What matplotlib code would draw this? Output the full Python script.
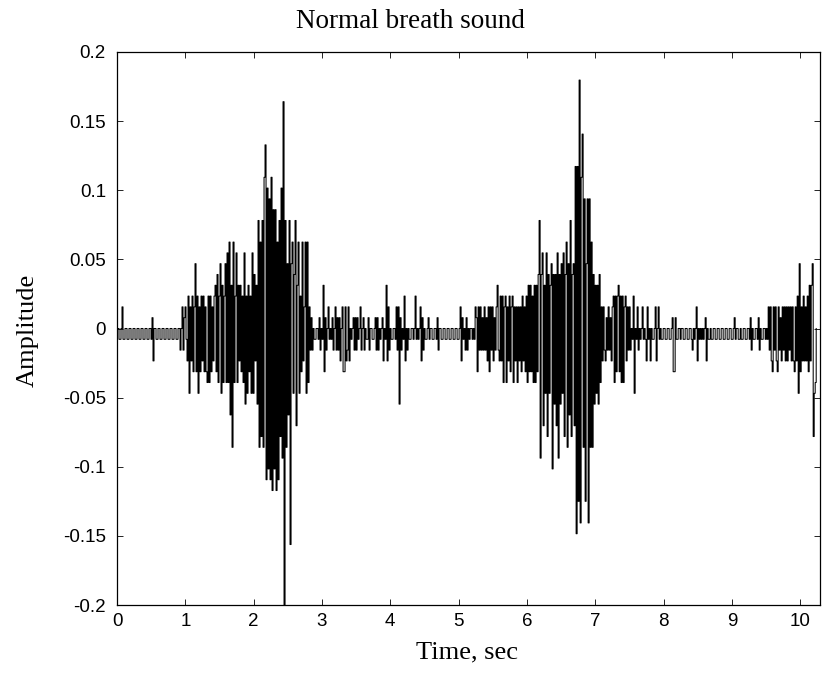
import numpy as np
import matplotlib
matplotlib.use('Agg')
import matplotlib.pyplot as plt

# display sampling of the trace (samples per second) and 8-bit quantisation step
fs = 68.3
q_step = 1.0 / 128

# amplitude in quantisation steps
quiet_start = [
    0, 0, -1, -1, 0, 2, -1, -1, 0, 0,
    -1, -1, 0, 0, -1, -1, 0, 0, -1, -1,
    0, 0, -1, -1, 0, 0, -1, -1, 0, 0,
    -1, -1, 0, 0, -1, 1, -3, 0, 0, -1,
    -1, 0, 0, -1, -1, 0, 0, -1, -1, 0,
    0, -1, -1, 0, 0, -1, -1, 0, 0, -1,
    -1, 0, 0,
]
burst_1 = [
    -2, 0, 2, -2, 1, 2, -1, -3, 3, -6,
    2, -3, 3, -4, 2, 6, -4, 3, -6, 2,
    -4, 3, -3, 3, -4, 2, -4, -5, 3, -5,
    3, -4, 2, -3, 3, 4, -4, 5, -5, 3,
    6, -6, 4, -5, 3, 6, -5, 7, -5, 8,
    -8, 4, -11, 8, -5, 3, 7, -5, 4, -3,
    4, -4, 3, -5, 7, -7, 3, -6, 4, -4,
    3, -6, 7, -6, 5, -3, 4, -7, 10, -11,
    8, -10, 10, -11, 14, 17, -14, 13, -13, 12,
    -14, 14, -15, 11, -13, 11, -15, 8, -14, 10,
    -10, 13, -12, 21, -26, 10, -11, 6, -8, 10,
    -20, 6, 8, -6, 5, 10, -9, 4, 8, -6,
    3, -4, 8, -3, 2, 8, -6, 8, -5, 2,
    -2,
]
interval_1 = [
    1, -2, 0, -1, -1, 0, 0, -1, 1, -2,
    0, -1, 4, -4, 1, -2, 0, 2, -1, 0,
    -1, 1, -2, 0, 2, -2, 1, -2, 1, -3,
    0, 2, -4, -4, 2, -3, -2, 2, -3, 0,
    -1, 0, 1, -2, 1, -2, 1, -1, 0, 2,
    -2, 0, 1, -2, 0, -1, -1, 1, -2, 0,
    0, -1, -1, 0, 1, -2, 1, -2, 0, -1,
    0, 1, -3, 0, -1, 4, -3, 2, -2, 0,
    -1, -1, 0, 0, -1, 2, -2, 2, -7, 1,
    -2, 0, -1, 3, -3, 0, -2, 0, -1, -1,
    0, 0, -1, 0, 3, -1, 0, -1, 0, 2,
    -3, 1, -2, 0, -1, -1, 0, 1, -1, 0,
    0, -1, -1, 0, 0, -1, 1, -2, 0, 0,
    -1, -1, 0, 0, -1, -1, 0, 0, -1, -1,
    0, 0, -1, -1, 0, 0, -1, -1, 0, 2,
    -3, 1, -1, 0, -2, 1, -2, 0, -1, 0,
]
burst_2 = [
    0, -1, 0, -1, 2, 1, -4, 2, -2, 2,
    -2, 1, -2, 2, -2, 1, -3, 2, -4, 2,
    -2, 2, -3, 1, -2, 2, 4, -2, -3, 3,
    -3, 3, -5, 2, 3, -5, 2, -3, 3, -4,
    2, 3, -5, 2, -3, 2, -5, 2, -3, 2,
    -4, 3, -3, 2, -4, 3, -5, 4, -4, 4,
    -4, 3, -5, 4, -5, 4, -4, 5, 10, -12,
    5, 7, -9, 4, -6, 7, -10, 5, -6, 4,
    6, -13, 5, -7, 5, -9, 7, -12, 5, -7,
    6, -6, 7, -10, 5, 8, -11, 6, -8, 10,
    -10, 5, 6, -9, 15, -19, 15, -16, 23, -18,
    14, 18, -11, 12, -16, 6, 12, -18, 12, -11,
    8, -11, 5, -7, 4, -6, 4, -7, 5, -5,
    2, -3, 2, -2, -3, 1, -2, 2, -2, 1,
    -3, 2, 3, -5, 3, -4, 3, 4, -4, 3,
    -5, 3, -5, 2, 3, -3, 2, -2, 2, -2,
]
interval_2 = [
    0, -1, 3, -6, 0, -1, 2, -2, 0, -1,
    0, 2, -1, 0, -1, -3, 2, -1, 0, -3,
    0, -1, -1, 0, 2, -3, 0, 2, -1, 0,
    -1, -1, 0, 0, -1, -1, 0, 0, -1, -1,
    0, 1, -4, -4, 1, -1, -1, 0, 0, -1,
    0, 0, -1, -1, 0, 0, -1, -1, 0, 0,
    -1, -2, 0, -1, 0, 2, -3, 0, -1, 0,
    -1, 0, -1, 0, 1, -3, 0, -1, -1, 0,
    -1, -1, 0, 0, -1, -1, 0, 0, -1, -1,
    0, 0, -1, -1, 0, 0, -1, -1, 0, 0,
    -1, -1, 0, 1, -1, 0, 0, -1, -1, 0,
    -1, -1, 0, 0, -1, -1, 0, 0, -1, 1,
    -2, 0, -1, -1, 0, 0, -1, 1, -2, 0,
    -1, -1, 0, 0, -1,
]
burst_3 = [
    0, -1, 2, -2, 2, -3, -4, 2, -2, 2,
    -3, -4, 2, -2, 1, -3, 2, -2, 2, -3,
    2, -3, 2, -2, 2, -3, 2, -3, -4, 2,
    -3, 3, -6, 6, -4, 2, -3, 3, -3, 2,
    -3, 3, -4, 4, -3, 4, 6, -10, -6, -5,
    0,
]

y_ticks = [-0.2, -0.15, -0.1, -0.05, 0, 0.05, 0.1, 0.15, 0.2]
y_tick_labels = ['-0.2', '-0.15', '-0.1', '-0.05', '0', '0.05', '0.1', '0.15', '0.2']
x_ticks = list(range(11))

counts = np.concatenate([quiet_start, burst_1, interval_1, burst_2, interval_2, burst_3])
amp = counts * q_step
t = np.arange(len(amp)) / fs

W, H = 822, 673
fig = plt.figure(figsize=(W / 100, H / 100), dpi=100)
ax = fig.add_axes([117 / W, 1 - 605 / H, 703 / W, 553 / H])

ax.plot(t, amp, color='black', lw=0.75, drawstyle='steps-post')

ax.set_xlim(0, 10.29)
ax.set_ylim(-0.2, 0.2)
ax.set_xticks(x_ticks)
ax.set_xticklabels([str(v) for v in x_ticks])
ax.set_yticks(y_ticks)
ax.set_yticklabels(y_tick_labels)
ax.tick_params(direction='in', top=True, right=True, length=4, width=0.6,
               labelsize=13.5, colors='black')
ax.tick_params(axis='x', pad=6)
ax.tick_params(axis='y', pad=8)
for lab in ax.get_xticklabels() + ax.get_yticklabels():
    lab.set_fontfamily('Liberation Sans')
for sp in ax.spines.values():
    sp.set_linewidth(0.9)

serif = ['Liberation Serif', 'DejaVu Serif']
fig.text(410 / W, 1 - 22 / H, 'Normal breath sound', ha='center', va='center',
         family=serif, size=19.5)
fig.text(467 / W, 1 - 652 / H, 'Time, sec', ha='center', va='center',
         family=serif, size=19)
fig.text(28 / W, 1 - 330 / H, 'Amplitude', ha='center', va='center',
         rotation=90, family=serif, size=19)

fig.savefig('out.png', dpi=100)
